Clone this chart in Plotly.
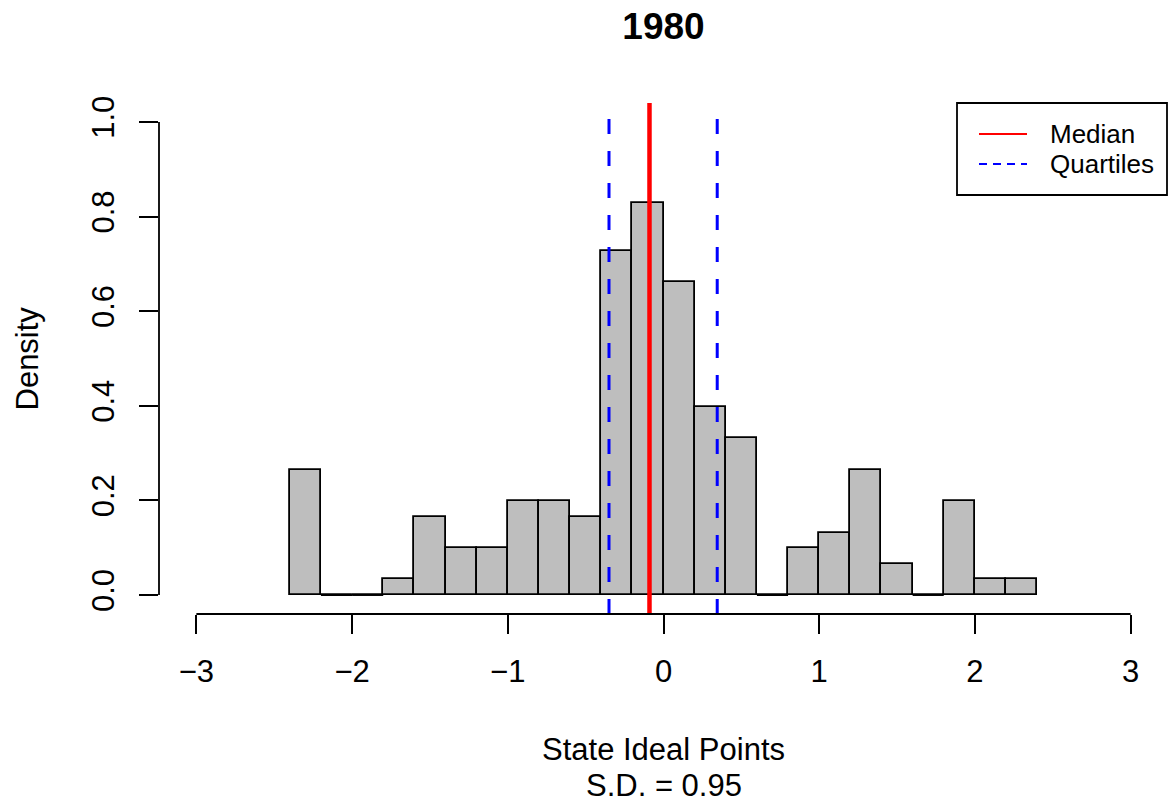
import plotly.graph_objects as go

# ---- data ----
bin_left = [-2.4, -2.2, -2.0, -1.8, -1.6, -1.4, -1.2, -1.0, -0.8, -0.6, -0.4, -0.2,
            0.0, 0.2, 0.4, 0.6, 0.8, 1.0, 1.2, 1.4, 1.6, 1.8, 2.0, 2.2]
density = [0.265, 0.0, 0.0, 0.033, 0.166, 0.099, 0.099, 0.199, 0.199, 0.166, 0.728, 0.828,
           0.662, 0.397, 0.331, 0.0, 0.099, 0.132, 0.265, 0.066, 0.0, 0.199, 0.033, 0.033]
bin_width = 0.2
median_val = -0.09
quartiles = [-0.35, 0.345]
x_ticks = [-3, -2, -1, 0, 1, 2, 3]
y_ticks = [0.0, 0.2, 0.4, 0.6, 0.8, 1.0]
title_text = "1980"
xlab1 = "State Ideal Points"
xlab2 = "S.D. = 0.95"
ylab = "Density"
legend_labels = ["Median", "Quartiles"]

FONT = "Liberation Sans, Arial, sans-serif"
W, H = 1168, 802
ML, MR, MT, MB = 159, 0, 103, 188
XR = [-3.24, 3.24]
YR = [-0.04, 1.04]
pw = W - ML - MR
ph = H - MT - MB

def px_x(p):
    return (p - ML) / pw

def px_y(p):
    return (H - MB - p) / ph

centers = [b + bin_width / 2 for b in bin_left]

fig = go.Figure()
fig.add_trace(go.Bar(
    x=centers, y=density, width=bin_width,
    marker=dict(color="#BEBEBE", line=dict(color="black", width=1.8)),
    showlegend=False, hoverinfo="skip",
))

# zero-height bins drawn as baseline segments (as R does)
zx, zy = [], []
for b, d in zip(bin_left, density):
    if d == 0:
        zx += [b, b + bin_width, None]
        zy += [0, 0, None]
fig.add_trace(go.Scatter(x=zx, y=zy, mode="lines",
                         line=dict(color="black", width=1.8),
                         showlegend=False, hoverinfo="skip"))

shapes = []
# median and quartile lines (drawn bottom -> top)
shapes.append(dict(type="line", xref="x", yref="paper", x0=median_val, x1=median_val,
                   y0=0, y1=1, line=dict(color="red", width=4.5), layer="above"))
for q in quartiles:
    shapes.append(dict(type="line", xref="x", yref="paper", x0=q, x1=q, y0=0, y1=1,
                       line=dict(color="blue", width=3, dash="15px,17px"), layer="above"))

# axis lines spanning only the tick range (R style)
def xpaper(v):
    return (v - XR[0]) / (XR[1] - XR[0])

def ypaper(v):
    return (v - YR[0]) / (YR[1] - YR[0])

shapes.append(dict(type="line", xref="paper", yref="paper",
                   x0=xpaper(x_ticks[0]), x1=xpaper(x_ticks[-1]), y0=0, y1=0,
                   line=dict(color="black", width=1.8)))
shapes.append(dict(type="line", xref="paper", yref="paper",
                   x0=0, x1=0, y0=ypaper(y_ticks[0]), y1=ypaper(y_ticks[-1]),
                   line=dict(color="black", width=1.8)))

# legend box
shapes.append(dict(type="rect", xref="paper", yref="paper",
                   x0=px_x(957), x1=px_x(1167), y0=px_y(195), y1=px_y(103),
                   line=dict(color="black", width=1.8), fillcolor="white", layer="above"))
shapes.append(dict(type="line", xref="paper", yref="paper",
                   x0=px_x(979), x1=px_x(1027), y0=px_y(134), y1=px_y(134),
                   line=dict(color="red", width=1.8), layer="above"))
shapes.append(dict(type="line", xref="paper", yref="paper",
                   x0=px_x(979), x1=px_x(1027), y0=px_y(164), y1=px_y(164),
                   line=dict(color="blue", width=1.8, dash="8px,6px"), layer="above"))

annotations = [
    dict(text=legend_labels[0], xref="paper", yref="paper", x=px_x(1048), y=px_y(134),
         xanchor="left", yanchor="middle", showarrow=False,
         font=dict(family=FONT, size=26, color="black")),
    dict(text=legend_labels[1], xref="paper", yref="paper", x=px_x(1048), y=px_y(164),
         xanchor="left", yanchor="middle", showarrow=False,
         font=dict(family=FONT, size=26, color="black")),
    dict(text=xlab1, xref="paper", yref="paper", x=0.5, y=px_y(749),
         xanchor="center", yanchor="middle", showarrow=False,
         font=dict(family=FONT, size=31, color="black")),
    dict(text=xlab2, xref="paper", yref="paper", x=0.5, y=px_y(785),
         xanchor="center", yanchor="middle", showarrow=False,
         font=dict(family=FONT, size=31, color="black")),
    dict(text=ylab, xref="paper", yref="paper", x=px_x(27), y=0.5, textangle=-90,
         xanchor="center", yanchor="middle", showarrow=False,
         font=dict(family=FONT, size=31, color="black")),
]

fig.update_layout(
    width=W, height=H,
    margin=dict(l=ML, r=MR, t=MT, b=MB, pad=0),
    paper_bgcolor="white", plot_bgcolor="white",
    title=dict(text="<b>" + title_text + "</b>", x=0.5, xref="paper",
               y=1 - 26 / H, yref="container", yanchor="middle", xanchor="center",
               font=dict(family=FONT, size=37, color="black")),
    xaxis=dict(range=XR, tickvals=x_ticks, ticks="outside", ticklen=19, tickwidth=1.8,
               tickcolor="black", showgrid=False, zeroline=False, showline=False,
               tickfont=dict(family=FONT, size=31, color="black"),
               ticklabelstandoff=11),
    yaxis=dict(range=YR, tickvals=y_ticks, tickformat=".1f", ticks="outside", ticklen=19,
               tickwidth=1.8, tickcolor="black", showgrid=False, zeroline=False,
               showline=False, tickangle=-90,
               tickfont=dict(family=FONT, size=31, color="black"),
               ticklabelstandoff=13),
    shapes=shapes, annotations=annotations,
    bargap=0, showlegend=False,
)

fig.write_html("out.html")
